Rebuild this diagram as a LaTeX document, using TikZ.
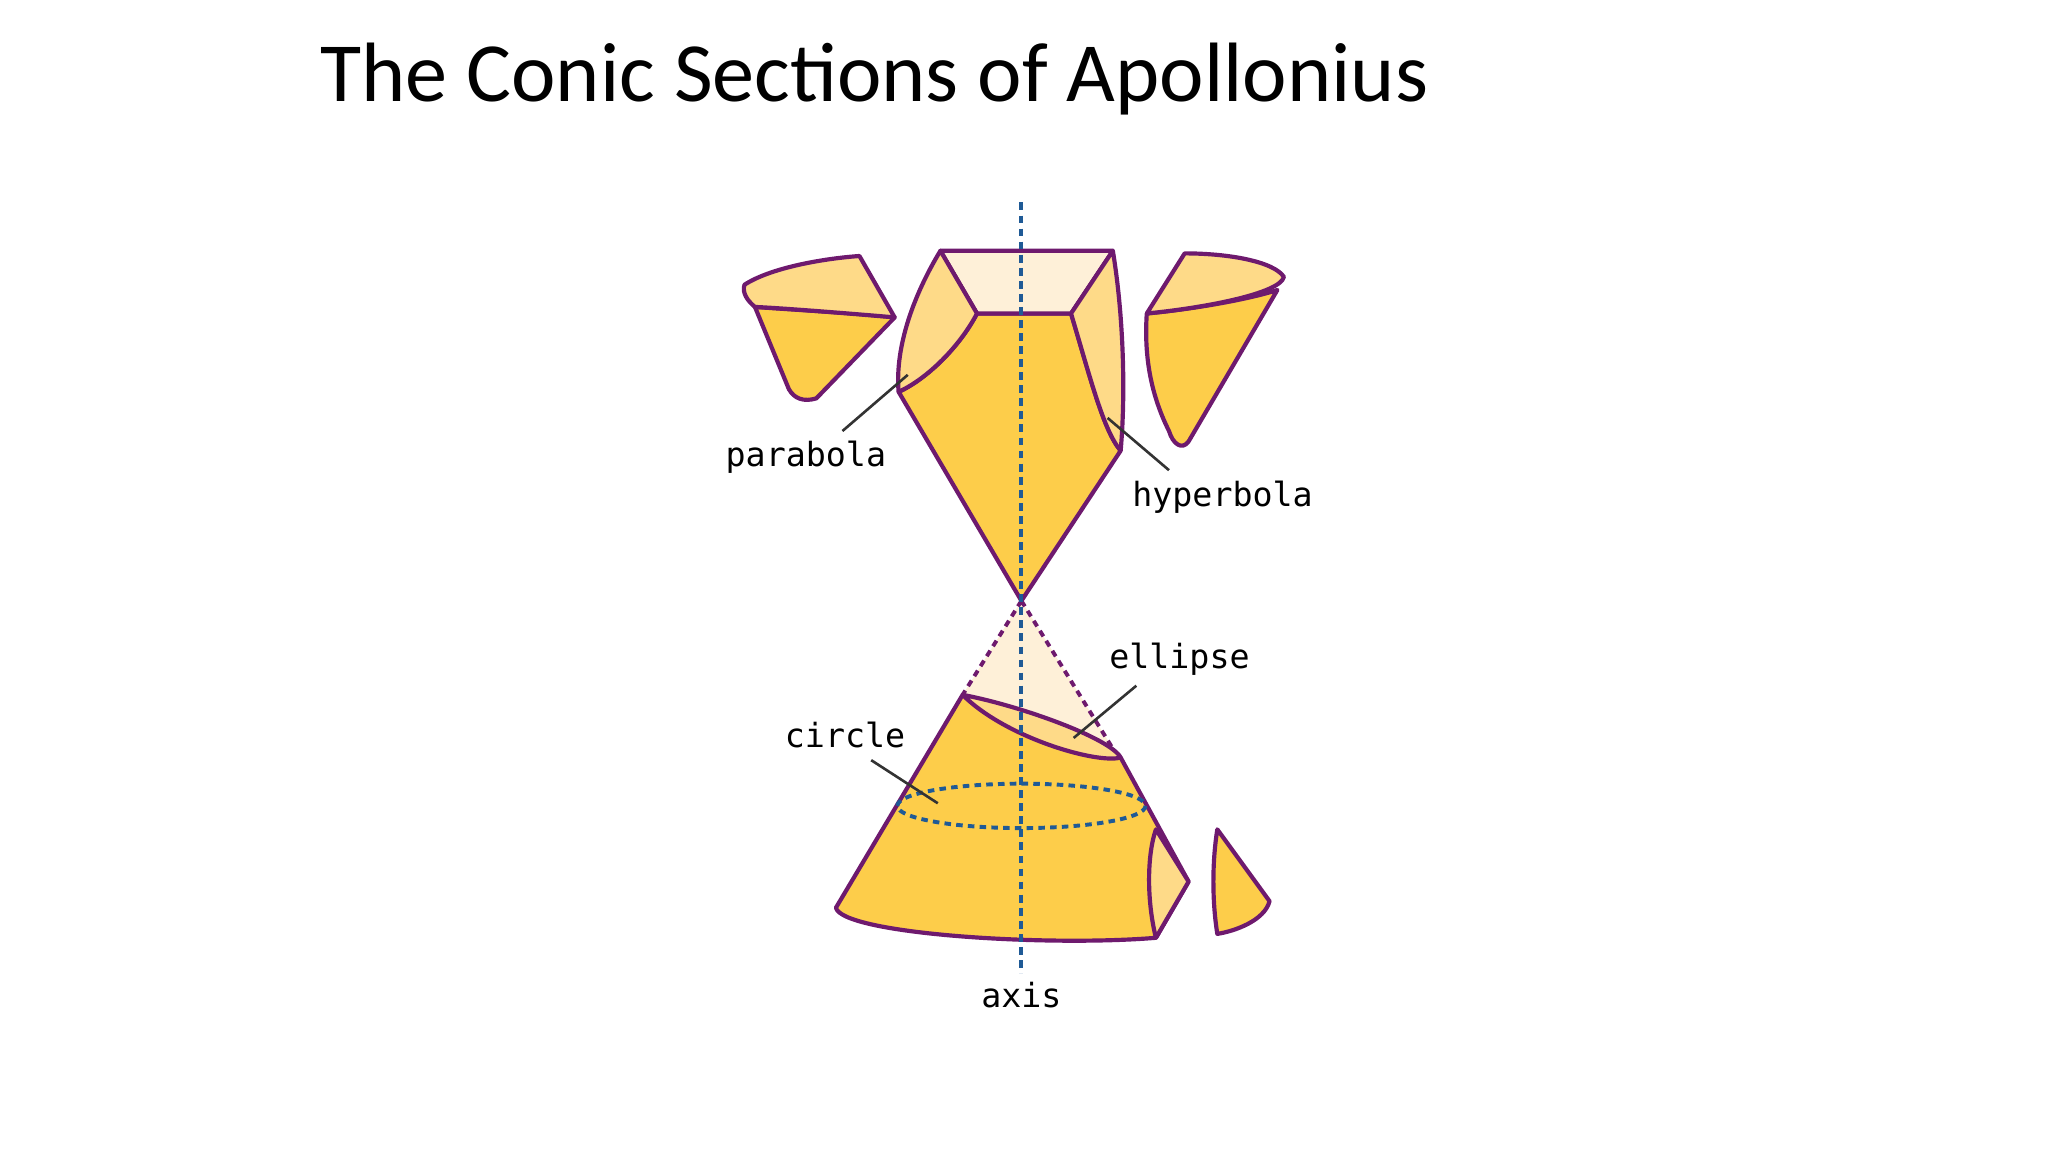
\documentclass[tikz,border=0pt]{standalone}
\usepackage{fontspec}
\setmainfont{Carlito}
\newfontfamily\monof{DejaVu Sans Mono}
\definecolor{rim}{HTML}{6E1A6E}
\definecolor{body}{HTML}{FDCD4A}
\definecolor{face}{HTML}{FEDA88}
\definecolor{topf}{HTML}{FEF0D8}
\definecolor{axisc}{HTML}{1F5A96}
\begin{document}
\begin{tikzpicture}[x=1pt,y=-1pt,
  cone/.style={draw=rim,line width=3.2pt,line join=round},
  lbl/.style={font=\monof\fontsize{25.5}{25.5}\selectfont,inner sep=0pt},
  lead/.style={draw=black!80,line width=2pt}]
\useasboundingbox (0,0) rectangle (1568,882);
\node[anchor=base west,inner sep=0pt,font=\fontsize{64.5}{64.5}\selectfont] (title) at (245,78) {The Conic Sections of Apollonius};
% top-left piece
\filldraw[cone,fill=body] (578,235) .. controls (620,238) and (660,240) .. (685,243) -- (625,305) .. controls (615,308) and (608,305) .. (604,298) -- cycle;
\filldraw[cone,fill=face] (570,218) .. controls (590,205) and (630,198) .. (658,196) -- (685,243) .. controls (650,240) and (600,236) .. (578,235) .. controls (572,230) and (568,224) .. (570,218) -- cycle;
% top-right piece
\filldraw[cone,fill=body] (878,240) .. controls (920,236) and (960,228) .. (978,222) -- (910,338) .. controls (905,345) and (898,340) .. (895,330) .. controls (880,300) and (876,270) .. (878,240) -- cycle;
\filldraw[cone,fill=face] (878,240) -- (907,194) .. controls (940,194) and (975,200) .. (983,212) .. controls (980,225) and (920,236) .. (878,240) -- cycle;
% upper cone
\filldraw[cone,fill=body] (748,240) -- (820,240) .. controls (835,290) and (845,330) .. (858,345) -- (782,460) -- (688,300) .. controls (710,290) and (735,265) .. (748,240) -- cycle;
\filldraw[cone,fill=topf] (720,192) -- (852,192) -- (820,240) -- (748,240) -- cycle;
\filldraw[cone,fill=face] (720,192) -- (748,240) .. controls (735,265) and (710,290) .. (688,300) .. controls (685,265) and (700,225) .. (720,192) -- cycle;
\filldraw[cone,fill=face] (852,192) -- (820,240) .. controls (835,290) and (845,330) .. (858,345) .. controls (862,300) and (860,240) .. (852,192) -- cycle;
% lower cone
\fill[topf] (782,460) -- (737,532) -- (855,578) -- cycle;
\draw[rim,line width=3pt,dash pattern=on 5pt off 4pt] (782,460) -- (737,532) (782,460) -- (855,578);
\filldraw[cone,fill=body] (737,532) -- (640,695) .. controls (645,715) and (800,725) .. (885,718) -- (910,675) -- (858,580) -- cycle;
\filldraw[cone,fill=face] (737,532) .. controls (780,540) and (850,565) .. (858,580) .. controls (840,585) and (770,565) .. (737,532) -- cycle;
\filldraw[cone,fill=face] (885,635) -- (910,675) -- (885,718) .. controls (878,690) and (878,655) .. (885,635) -- cycle;
\filldraw[cone,fill=body] (932,635) -- (972,690) .. controls (968,705) and (945,713) .. (932,715) .. controls (928,690) and (928,660) .. (932,635) -- cycle;
% circle and axis
\draw[axisc,line width=3pt,dash pattern=on 5pt off 4pt] (782,617) ellipse [x radius=95,y radius=17];
\draw[axisc,line width=3pt,dash pattern=on 6pt off 4pt] (782,155) -- (782,745);
% labels
\node[lbl] (parabola) at (617,350) {parabola};
\node[lbl] (hyperbola) at (936,381) {hyperbola};
\node[lbl] (ellipse) at (903,505) {ellipse};
\node[lbl] (circle) at (647,563) {circle};
\node[lbl] (axis) at (782,762) {axis};
\coordinate (pe) at (695,287); \coordinate (he) at (848,320);
\coordinate (ee) at (822,565); \coordinate (ce) at (718,615);
\draw[lead] (645,330) -- (pe);
\draw[lead] (895,360) -- (he);
\draw[lead] (870,525) -- (ee);
\draw[lead] (667,582) -- (ce);
\end{tikzpicture}
\end{document}
